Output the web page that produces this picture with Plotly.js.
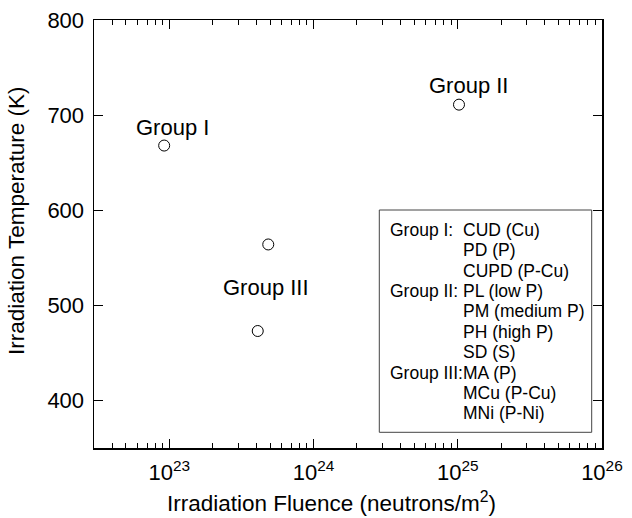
<!DOCTYPE html>
<html>
<head>
<meta charset="utf-8">
<script src="https://cdn.plot.ly/plotly-3.0.1.min.js"></script>
<style>html,body{margin:0;padding:0;background:#fff;}#chart{width:632px;height:518px;}</style>
</head>
<body>
<div id="chart"></div>
<script>
// Data
const fluence = [9.2e22, 1.02e25, 4.85e23, 4.1e23];   // neutrons/m^2
const temperature = [668, 711, 564, 473];           // K

const groupNames = ["Group I", "Group II", "Group III"];
const groupLabelX = [1.05e23, 1.18e25, 4.7e23];      // label anchor fluence
const groupLabelY = [687, 731, 519];                // label anchor temperature

const xTickVals = [1e23, 1e24, 1e25, 1e26];
const xTickText = ["10<sup>23</sup>", "10<sup>24</sup>", "10<sup>25</sup>", "10<sup>26</sup>"];
const yTickVals = [400, 500, 600, 700, 800];

const xTitle = "Irradiation Fluence (neutrons/m<sup>2</sup>)";
const yTitle = "Irradiation Temperature (K)";

const legendGroups = ["Group I:", "", "", "Group II:", "", "", "", "Group III:", "", ""];
const legendItems = ["CUD (Cu)", "PD (P)", "CUPD (P-Cu)", "PL (low P)", "PM (medium P)",
                     "PH (high P)", "SD (S)", "MA (P)", "MCu (P-Cu)", "MNi (P-Ni)"];

const FONT = "Arial, 'Liberation Sans', Helvetica, sans-serif";

// geometry helpers (paper coords)
const L = 94, R = 602, T = 20, B = 448;
const px2x = p => (p - L) / (R - L);
const py2y = p => (B - p) / (B - T);

const annotations = [];
groupNames.forEach((g, i) => {
  annotations.push({
    x: Math.log10(groupLabelX[i]), y: groupLabelY[i], xref: "x", yref: "y",
    text: g, showarrow: false, xanchor: "center", yanchor: "middle",
    font: {family: FONT, size: 22, color: "#000"}
  });
});
legendItems.forEach((item, i) => {
  const yc = py2y(230 + i * 20.37);
  if (legendGroups[i]) {
    annotations.push({
      x: px2x(388), y: yc, xref: "paper", yref: "paper", text: legendGroups[i],
      showarrow: false, xanchor: "left", yanchor: "middle",
      font: {family: FONT, size: 17.5, color: "#000"}
    });
  }
  annotations.push({
    x: px2x(461), y: yc, xref: "paper", yref: "paper", text: item,
    showarrow: false, xanchor: "left", yanchor: "middle",
    font: {family: FONT, size: 17.5, color: "#000"}
  });
});
// axis titles
annotations.push({
  x: px2x(331), y: py2y(502), xref: "paper", yref: "paper", text: xTitle,
  showarrow: false, xanchor: "center", yanchor: "middle",
  font: {family: FONT, size: 22.5, color: "#000"}
});
annotations.push({
  x: px2x(16), y: py2y(221), xref: "paper", yref: "paper", text: yTitle,
  showarrow: false, xanchor: "center", yanchor: "middle", textangle: -90,
  font: {family: FONT, size: 22.5, color: "#000"}
});

const trace = {
  x: fluence, y: temperature, type: "scatter", mode: "markers",
  marker: {symbol: "circle-open", size: 11, color: "#000", line: {width: 1, color: "#000"}},
  hoverinfo: "x+y"
};

const layout = {
  width: 632, height: 518,
  margin: {l: L, r: 632 - R, t: T, b: 518 - B},
  paper_bgcolor: "#fff", plot_bgcolor: "#fff",
  showlegend: false,
  font: {family: FONT, color: "#000"},
  xaxis: {
    type: "log", range: [Math.log10(3e22), 26.0005],
    tickvals: xTickVals, ticktext: xTickText,
    ticks: "inside", ticklen: 9, tickwidth: 1.2, tickcolor: "#000",
    minor: {ticks: "inside", ticklen: 5, tickwidth: 1, tickcolor: "#000", dtick: "D1", showgrid: false},
    showline: true, linecolor: "#000", linewidth: 1.5, mirror: "ticks",
    showgrid: false, zeroline: false,
    tickfont: {family: FONT, size: 22, color: "#000"},
    ticklabelstandoff: 4
  },
  yaxis: {
    range: [350, 800], tickvals: yTickVals,
    ticks: "inside", ticklen: 9, tickwidth: 1.2, tickcolor: "#000",
    showline: true, linecolor: "#000", linewidth: 1.5, mirror: "ticks",
    showgrid: false, zeroline: false,
    tickfont: {family: FONT, size: 22, color: "#000"},
    ticklabelstandoff: 4
  },
  shapes: [{
    type: "rect", xref: "paper", yref: "paper",
    x0: px2x(379.3), x1: px2x(591.7), y0: py2y(432.3), y1: py2y(210),
    line: {color: "#444", width: 1}, fillcolor: "rgba(0,0,0,0)"
  }],
  annotations: annotations
};

Plotly.newPlot("chart", [trace], layout, {displayModeBar: false, staticPlot: true});
</script>
</body>
</html>
